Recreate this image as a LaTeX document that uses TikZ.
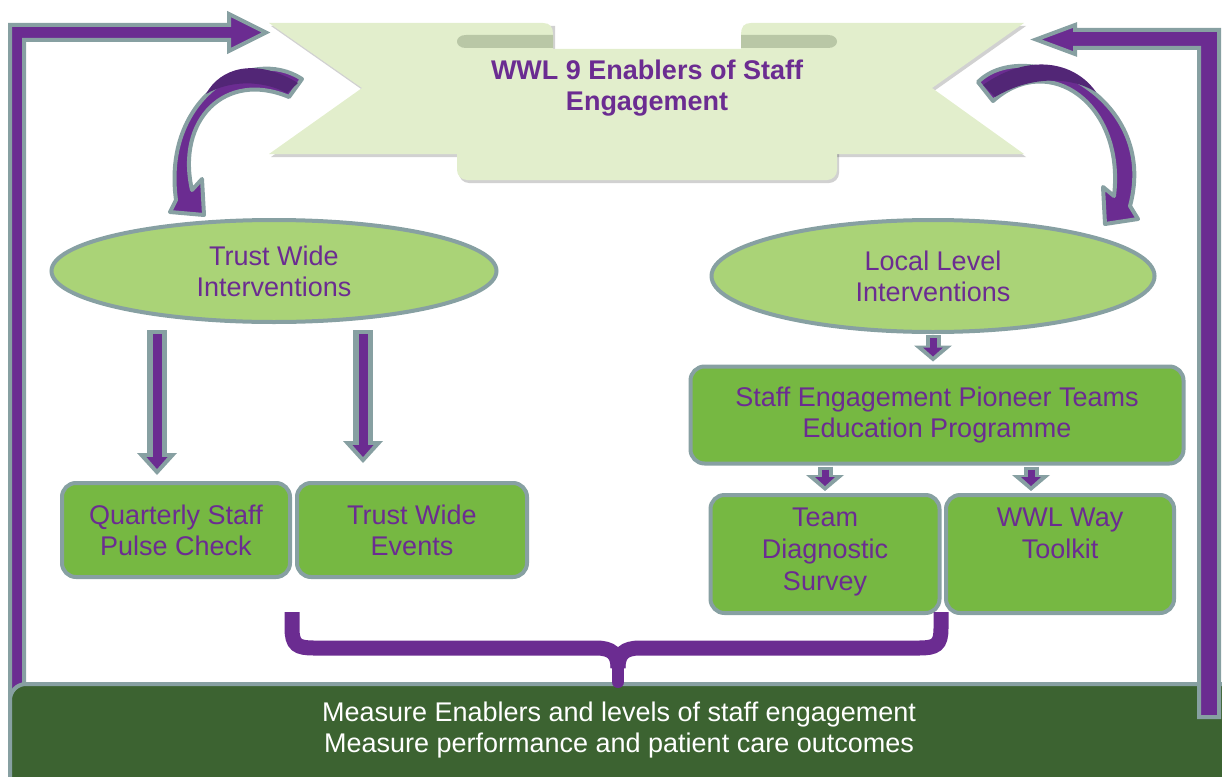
\documentclass[tikz,border=0pt]{standalone}
\usepackage{fontspec}
\setmainfont{Liberation Sans}
\usetikzlibrary{arrows.meta}
\usetikzlibrary{shapes.geometric}
\usetikzlibrary{calc}

\definecolor{vpurple}{RGB}{107,44,145}
\definecolor{darkpurple}{RGB}{82,38,118}
\definecolor{edgegrey}{RGB}{135,160,162}
\definecolor{bannergreen}{RGB}{226,238,204}
\definecolor{foldgreen}{RGB}{185,199,166}
\definecolor{ovalgreen}{RGB}{170,211,119}
\definecolor{boxgreen}{RGB}{118,184,66}
\definecolor{bargreen}{RGB}{60,99,49}

\tikzset{
  oval/.style={ellipse, draw=edgegrey, line width=4pt, fill=ovalgreen, inner sep=0pt,
    align=center, text=vpurple, font=\fontsize{27}{31}\selectfont},
  greenbox/.style={rectangle, rounded corners=14pt, draw=edgegrey, line width=4pt, fill=boxgreen,
    inner sep=0pt, align=center, text=vpurple, font=\fontsize{27}{31}\selectfont},
  bigout/.style={draw=edgegrey, line width=20pt, -{Triangle[length=22pt,width=40pt,line width=0pt]}},
  bigin/.style={draw=vpurple, line width=9pt, -{Triangle[length=12pt,width=21pt,line width=0pt]},
    shorten <=4pt, shorten >=6pt},
  smallout/.style={draw=edgegrey, line width=15pt, -{Triangle[length=16pt,width=38pt,line width=0pt]}},
  smallin/.style={draw=vpurple, line width=7pt, -{Triangle[length=9pt,width=20pt,line width=0pt]},
    shorten <=3pt, shorten >=5pt},
  framearrow/.style={fill=vpurple, draw=edgegrey, line width=4pt},
  curvearrow/.style={fill=vpurple, draw=edgegrey, line width=4pt, line join=round},
}

\begin{document}
\begin{tikzpicture}[x=1pt, y=-1pt]
  \clip (0,0) rectangle (1222,776);

  % banner shadow
  \begin{scope}[shift={(2,3)}, opacity=.18]
    \fill[black] (269,23) -- (553,23) -- (553,154) -- (269,154) -- (362,88) -- cycle;
    \fill[black] (1024,23) -- (741,23) -- (741,154) -- (1024,154) -- (932,88) -- cycle;
    \fill[black, rounded corners=10pt] (457,49) -- (837,49) -- (837,180) -- (457,180) -- cycle;
  \end{scope}
  % banner
  \fill[bannergreen] (269,23) -- (543,23) .. controls (550,23) and (553,27) .. (553,34) -- (553,154)
    -- (269,154) -- (362,88) -- cycle;
  \fill[bannergreen] (1024,23) -- (751,23) .. controls (744,23) and (741,27) .. (741,34) -- (741,154)
    -- (1024,154) -- (932,88) -- cycle;
  \fill[foldgreen] (553,35) -- (466,35) .. controls (454,35) and (454,48) .. (466,48) -- (553,48) -- cycle;
  \fill[foldgreen] (741,35) -- (828,35) .. controls (840,35) and (840,48) .. (828,48) -- (741,48) -- cycle;
  \fill[bannergreen, rounded corners=10pt] (457,49) -- (837,49) -- (837,180) -- (457,180) -- cycle;
  \node[font=\bfseries\fontsize{27}{31}\selectfont, text=vpurple, align=center] (title) at (647,88)
    {WWL 9 Enablers of Staff\\Engagement};

  % outer loop
  \filldraw[framearrow] (10,700) -- (10,25) -- (229,25) -- (229,14) -- (266,32.5) -- (229,51) -- (229,40)
    -- (24,40) -- (24,700) -- cycle;
  \filldraw[draw=edgegrey, line width=4pt, fill=bargreen, rounded corners=16pt] (10,684) rectangle (1260,820);
  \node[text=white, align=center, font=\fontsize{27}{31}\selectfont] (measure) at (619,730)
    {Measure Enablers and levels of staff engagement\\Measure performance and patient care outcomes};
  \filldraw[framearrow] (1219,717) -- (1219,30) -- (1075,30) -- (1075,25) -- (1036,39.5) -- (1075,54) -- (1075,48)
    -- (1199,48) -- (1199,717) -- cycle;

  % curved arrows
  \filldraw[curvearrow] (302,79) .. controls (250,45) and (162,97) .. (176,200) -- (170,212) -- (204,215)
    -- (202,179) -- (192,190) .. controls (176,120) and (225,70) .. (289,97) -- cycle;
  \fill[darkpurple] (298,83) .. controls (255,57) and (220,68) .. (206,94) .. controls (230,80) and (262,80) .. (287,93) -- cycle;
  \filldraw[curvearrow] (978,82) .. controls (1025,35) and (1160,95) .. (1130,206) -- (1138,219) -- (1105,224)
    -- (1103,187) -- (1114,196) .. controls (1125,105) and (1050,50) .. (993,101) -- cycle;
  \fill[darkpurple] (983,85) .. controls (1030,52) and (1075,62) .. (1096,92) .. controls (1070,76) and (1030,76) .. (995,97) -- cycle;

  % nodes
  \node[oval, minimum width=445pt, minimum height=102pt] (tw) at (274,271) {Trust Wide\\Interventions};
  \node[oval, minimum width=443pt, minimum height=112pt] (ll) at (933,276) {Local Level\\Interventions};
  \node[greenbox, minimum width=228pt, minimum height=94pt] (pulse) at (176,530) {Quarterly Staff\\Pulse Check};
  \node[greenbox, minimum width=230pt, minimum height=94pt] (events) at (412,530) {Trust Wide\\Events};
  \node[greenbox, minimum width=493pt, minimum height=97pt] (pioneer) at (937,415)
    {Staff Engagement Pioneer Teams\\Education Programme};
  \node[greenbox, minimum width=229pt, minimum height=118pt, font=\fontsize{27}{32}\selectfont,
    text depth=10pt] (diag) at (825,554) {Team\\Diagnostic\\Survey};
  \node[greenbox, minimum width=228pt, minimum height=118pt, font=\fontsize{27}{32}\selectfont,
    text depth=10pt] (toolkit) at (1060,554) {WWL Way\\Toolkit\\\strut};

  % down arrows
  \draw[bigout] ($(tw.south)+(-117,6)$) -- ($(pulse.north)+(-19,-6)$);
  \draw[bigin] ($(tw.south)+(-117,6)$) -- ($(pulse.north)+(-19,-6)$);
  \draw[bigout] ($(tw.south)+(89,6)$) -- ($(events.north)+(-49,-18)$);
  \draw[bigin] ($(tw.south)+(89,6)$) -- ($(events.north)+(-49,-18)$);
  \draw[smallout] ($(ll.south)+(0,1)$) -- ($(pioneer.north)+(-4,-3)$);
  \draw[smallin] ($(ll.south)+(0,1)$) -- ($(pioneer.north)+(-4,-3)$);
  \draw[smallout] ($(pioneer.south -| diag.north)+(0,1)$) -- ($(diag.north)+(0,-2)$);
  \draw[smallin] ($(pioneer.south -| diag.north)+(0,1)$) -- ($(diag.north)+(0,-2)$);
  \draw[smallout] ($(pioneer.south -| toolkit.north)+(-29,1)$) -- ($(toolkit.north)+(-29,-2)$);
  \draw[smallin] ($(pioneer.south -| toolkit.north)+(-29,1)$) -- ($(toolkit.north)+(-29,-2)$);

  % brace
  \draw[vpurple, line width=15pt] (292,612) -- (292,628) .. controls (292,645) and (297,648) .. (314,648)
    -- (596,648) .. controls (612,648) and (618,654) .. (618,668);
  \draw[vpurple, line width=15pt] (941,612) -- (941,628) .. controls (941,645) and (936,648) .. (919,648)
    -- (640,648) .. controls (624,648) and (618,654) .. (618,668);
  \draw[vpurple, line width=12pt, line cap=round] (618,665) -- (618,682);
\end{tikzpicture}
\end{document}
